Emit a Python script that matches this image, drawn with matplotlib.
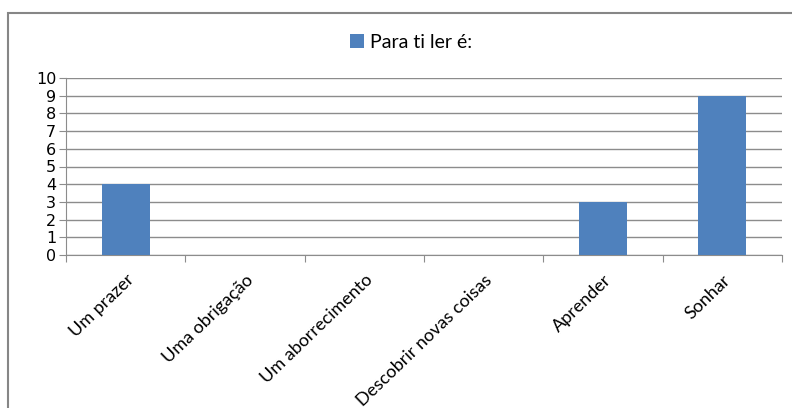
import matplotlib
matplotlib.use("Agg")
import matplotlib.pyplot as plt
from matplotlib.patches import Rectangle, Patch

categories = ["Um prazer", "Uma obrigação", "Um aborrecimento",
              "Descobrir novas coisas", "Aprender", "Sonhar"]
values = [4, 0, 0, 0, 3, 9]
series_name = "Para ti ler é:"
yticks = list(range(0, 11))

W, H = 792, 408
fig = plt.figure(figsize=(W / 100, H / 100), dpi=100)
fig.patch.set_facecolor("white")

# outer chart frame (extends past right/bottom edges)
fig.patches.append(Rectangle((8 / W, -0.05), 1.2, 1 - 13 / H + 0.05,
                             transform=fig.transFigure, fill=False,
                             edgecolor="#868686", linewidth=1.5))

ax = fig.add_axes([66 / W, 1 - 255 / H, (782 - 66) / W, (255 - 78) / H])
bar_color = "#4F81BD"
x = list(range(len(categories)))
ax.bar(x, values, width=0.4, color=bar_color, zorder=3)
ax.set_xlim(-0.5, len(categories) - 0.5)
ax.set_ylim(0, 10)
ax.set_yticks(yticks)
ax.set_yticklabels([str(t) for t in yticks], fontsize=11.5, family="DejaVu Sans")
ax.yaxis.grid(True, color="#8c8c8c", linewidth=1, zorder=0)
ax.tick_params(axis="y", length=5, color="#8c8c8c", pad=2, labelcolor="black")

ax.set_xticks([i - 0.5 for i in range(len(categories) + 1)], minor=False)
ax.set_xticklabels([""] * (len(categories) + 1))
ax.tick_params(axis="x", length=5, color="#8c8c8c", direction="out")
ax.set_xticks(x, minor=True)
ax.set_xticklabels(categories, minor=True, rotation=44, ha="right",
                   rotation_mode="anchor", fontsize=13, family="Lato")
ax.tick_params(axis="x", which="minor", length=0, pad=12)

for s in ["top", "right"]:
    ax.spines[s].set_visible(False)
ax.spines["left"].set_color("#8c8c8c")
ax.spines["bottom"].set_color("#8c8c8c")

fig.legend(handles=[Patch(facecolor=bar_color, label=series_name)],
           loc="center", bbox_to_anchor=(411 / W, 1 - 42 / H),
           frameon=False, prop={"family": "Lato", "size": 14},
           handlelength=0.75, handleheight=0.75, handletextpad=0.3)

fig.savefig("out.png", dpi=100)
